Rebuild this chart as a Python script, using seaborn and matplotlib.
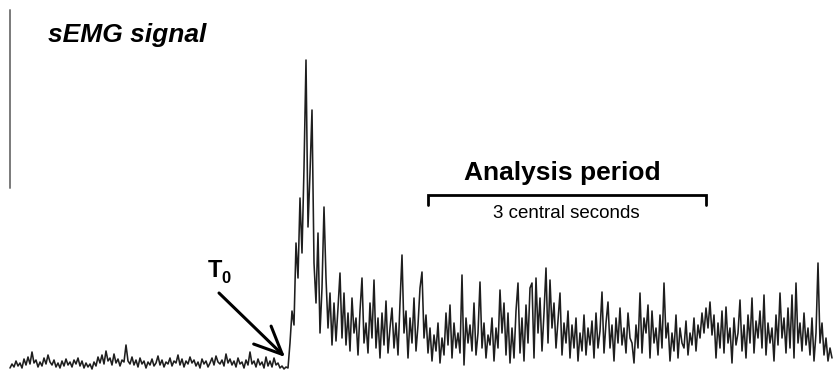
import matplotlib

matplotlib.use("Agg")

import matplotlib.pyplot as plt
import numpy as np
import seaborn as sns

sns.set_theme(style="white")
plt.rcParams["font.family"] = ["Liberation Sans", "DejaVu Sans"]
plt.rcParams["text.color"] = "black"

# amplitude samples (arbitrary units, one sample every 2 px)
baseline = [
    5, 9, 6, 12, 7, 10, 5, 14, 8, 16, 9, 21, 10, 13, 6, 11,
    7, 15, 9, 18, 11, 8, 13, 6, 10, 5, 12, 7, 14, 8, 11,
    6, 13, 9, 15, 7, 12, 5, 10, 6, 9, 4, 11, 7, 16, 10,
    18, 9, 22, 12, 15, 8, 19, 10, 14, 7, 13, 11, 28, 12, 9,
    16, 8, 13, 6, 15, 9, 12, 5, 11, 8, 14, 7, 10, 17, 8,
    13, 6, 11, 9, 15, 7, 12, 10, 18, 8, 14, 6, 12, 9, 16,
    10, 13, 7, 11, 5, 14, 9, 12, 6, 10, 15, 8, 17, 11, 9,
    13, 7, 19, 10, 14, 8, 12, 6, 15, 9, 11, 5, 13, 8, 21,
    9, 12, 6, 14, 8, 11, 5, 16, 7, 12, 6, 15, 8, 10, 5,
    7, 4, 6, 5,
]
burst = [
    30, 62, 48, 130, 95, 175, 120, 205, 313, 146, 200, 263, 110,
    70, 140, 40, 85, 166, 95, 45, 80, 28, 70, 32, 65, 100,
]
sustained = [
    35, 80, 28, 60, 22, 75, 40, 55, 18, 62,
    95, 30, 50, 20, 70, 35, 93, 25, 55, 15,
    60, 28, 72, 20, 45, 65, 25, 50, 18, 70,
    118, 40, 62, 15, 55, 30, 75, 22, 48, 85,
    101, 35, 58, 20, 45, 12, 38, 22, 50, 10,
    35, 18, 60, 28, 68, 15, 50, 25, 40, 20,
    98, 8, 55, 30, 48, 22, 70, 18, 40, 91,
    25, 50, 15, 38, 28, 55, 12, 45, 25, 83,
    40, 70, 18, 60, 10, 45, 15, 62, 90, 20,
    55, 12, 68, 30, 85, 90, 15, 95, 40, 75,
    22, 60, 105, 30, 93, 45, 70, 25, 52, 80,
    18, 50, 30, 62, 15, 48, 25, 55, 12, 40,
    22, 58, 18, 45, 28, 52, 15, 60, 25, 42,
    81, 20, 50, 71, 25, 48, 12, 55, 30, 65,
    28, 45, 20, 60, 35, 30, 10, 48, 25, 80,
    20, 55, 40, 68, 15, 62, 30, 45, 18, 58,
    25, 90, 35, 50, 12, 40, 22, 58, 15, 45,
    30, 25, 52, 18, 40, 28, 55, 22, 48, 35,
    60, 40, 65, 45, 71, 38, 58, 15, 50, 25,
    62, 20, 66, 30, 45, 10, 55, 28, 40, 73,
    22, 48, 15, 58, 30, 75, 20, 52, 35, 62,
    25, 78, 18, 50, 30, 45, 12, 58, 28, 80,
    35, 55, 20, 65, 25, 78, 15, 90, 30, 50,
    22, 60, 28, 45, 18, 55, 12, 40, 110, 30,
    50, 18, 35, 12, 25, 15,
]

signal = np.array(baseline + burst + sustained, dtype=float)
t = 10 + 2 * np.arange(len(signal))

fig = plt.figure(figsize=(8.33, 3.73), dpi=100)
ax = fig.add_axes([0, 0, 1, 1])
sns.lineplot(x=t, y=signal, ax=ax, color="#1e1e1e", linewidth=1.15, estimator=None)
ax.set_xlim(0, 833)
ax.set_ylim(0, 373)
ax.axis("off")

# amplitude scale bar
ax.plot([10, 10], [185, 363], color="#7a7a7a", lw=1.4)

ax.text(48, 331, "sEMG signal", fontsize=19, fontweight="bold", fontstyle="italic",
        ha="left", va="baseline")

# analysis window bracket
ax.plot([428, 428, 706, 706], [168, 178, 178, 168], color="black", lw=2,
        solid_joinstyle="miter")
ax.text(562, 193, "Analysis period", fontsize=19, fontweight="bold",
        ha="center", va="baseline")
ax.text(566, 155, "3 central seconds", fontsize=13.5, ha="center", va="baseline")

# onset marker
ax.text(208, 96, "T", fontsize=17, fontweight="bold", ha="left", va="baseline")
ax.text(221, 90, "0", fontsize=12, fontweight="bold", ha="left", va="baseline")
ax.annotate("", xy=(285, 16), xytext=(219, 80),
            arrowprops=dict(arrowstyle="->,head_length=1.0,head_width=0.45",
                            color="black", lw=2.2, mutation_scale=20,
                            shrinkA=0, shrinkB=0))

fig.savefig("out.png", dpi=100, facecolor="white")
